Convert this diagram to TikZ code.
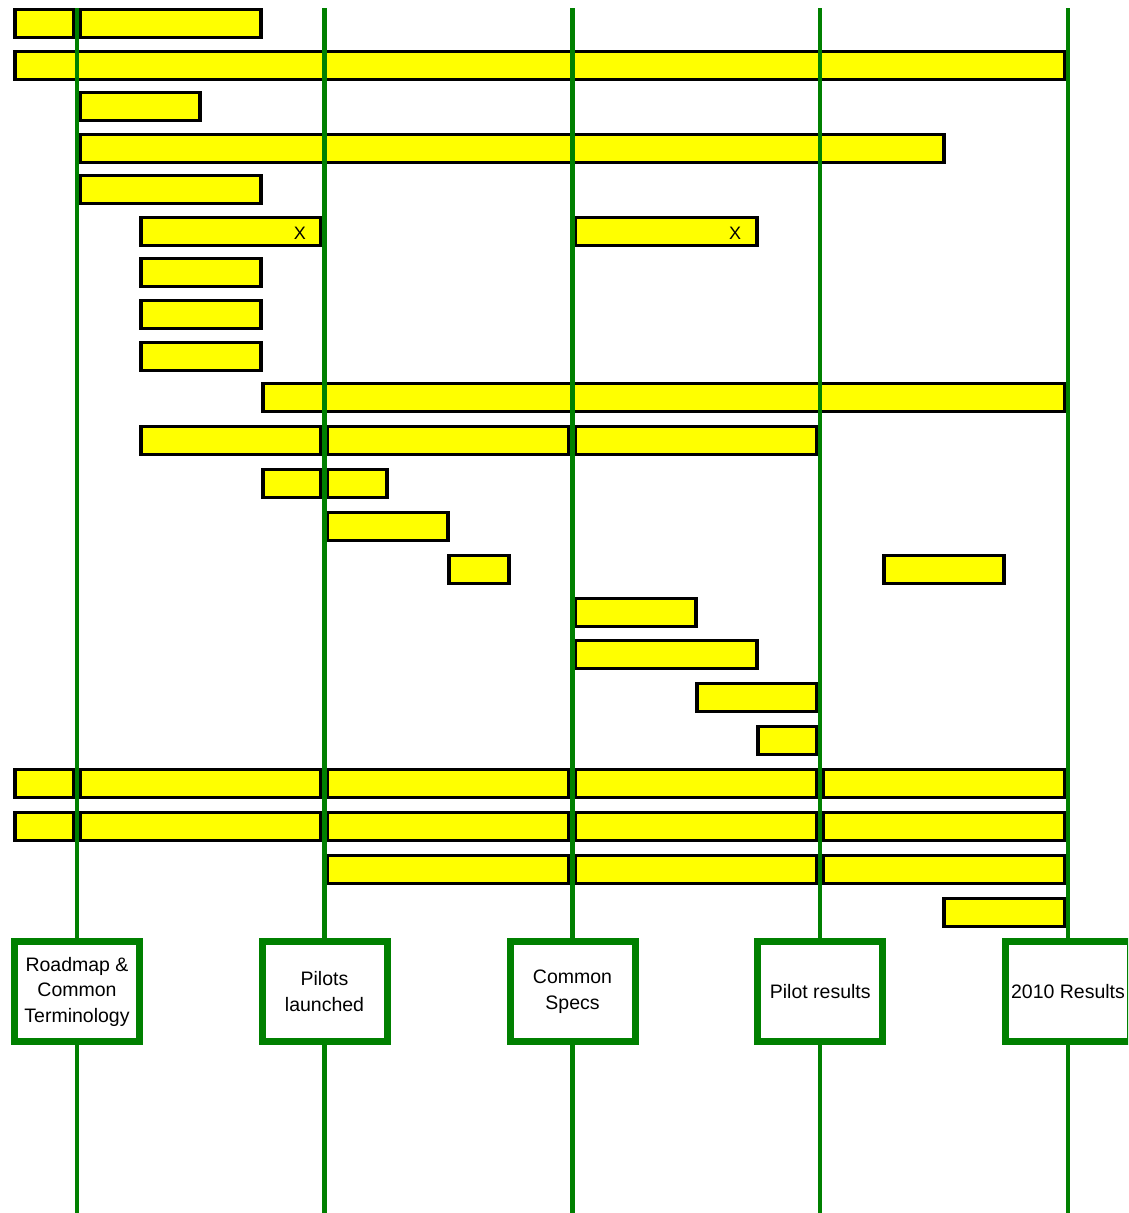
\documentclass[tikz,border=0pt]{standalone}
\usepackage{fontspec}
\setmainfont{Liberation Sans}
\definecolor{msgreen}{HTML}{008000}
\definecolor{baryellow}{HTML}{FFFF00}
\newcommand\gbar[3]{\draw[bar] (#2,#1+1.5) rectangle (#3,#1+29.5);}
\begin{document}
\begin{tikzpicture}[x=1pt,y=-1pt,
  bar/.style={draw=black,line width=3.2pt,fill=baryellow},
  vline/.style={draw=msgreen,line width=4.2pt},
  milestone/.style={draw=msgreen,line width=7pt,fill=white,minimum width=125pt,minimum height=100pt,inner sep=0pt,align=center,font=\fontsize{19.5}{25.5}\selectfont},
  xmark/.style={font=\fontsize{18}{20}\selectfont,inner sep=0pt}]
\useasboundingbox (0,0) rectangle (1128,1213);
\clip (0,0) rectangle (1128,1213);
% bars (first argument: top edge of the row)
\gbar{8}{15}{74}\gbar{8}{80}{261}
\gbar{50}{15}{1065}
\gbar{91}{80}{200}
\gbar{133}{80}{944}
\gbar{174}{80}{261}
\gbar{216}{141}{321}\gbar{216}{575}{757}
\gbar{257}{141}{261}
\gbar{299}{141}{261}
\gbar{341}{141}{261}
\gbar{382}{263}{1065}
\gbar{425}{141}{321}\gbar{425}{327}{569}\gbar{425}{575}{817}
\gbar{468}{263}{321}\gbar{468}{327}{387}
\gbar{511}{327}{448}
\gbar{554}{449}{509}\gbar{554}{884}{1004}
\gbar{597}{575}{696}
\gbar{639}{575}{757}
\gbar{682}{697}{817}
\gbar{725}{758}{817}
\gbar{768}{15}{74}\gbar{768}{80}{321}\gbar{768}{327}{569}\gbar{768}{575}{817}\gbar{768}{823}{1065}
\gbar{811}{15}{74}\gbar{811}{80}{321}\gbar{811}{327}{569}\gbar{811}{575}{817}\gbar{811}{823}{1065}
\gbar{854}{327}{569}\gbar{854}{575}{817}\gbar{854}{823}{1065}
\gbar{897}{944}{1065}
\node[xmark] (x1) at (300,233) {X};
\node[xmark] (x2) at (735,233) {X};
% milestone lines
\coordinate (t1) at (77,8);     \coordinate (b1) at (77,1213);
\coordinate (t2) at (324.5,8);  \coordinate (b2) at (324.5,1213);
\coordinate (t3) at (572.5,8);  \coordinate (b3) at (572.5,1213);
\coordinate (t4) at (820.25,8); \coordinate (b4) at (820.25,1213);
\coordinate (t5) at (1068,8);   \coordinate (b5) at (1068,1213);
\foreach \i in {1,...,5} {\draw[vline] (t\i) -- (b\i);}
% milestone boxes
\node[milestone] (m1) at (77,991.5) {Roadmap \&\\Common\\Terminology};
\node[milestone] (m2) at (324.5,991.5) {Pilots\\launched};
\node[milestone] (m3) at (572.5,991.5) {Common\\Specs};
\node[milestone] (m4) at (820.25,991.5) {Pilot results};
\node[milestone] (m5) at (1068,991.5) {2010 Results};
\end{tikzpicture}
\end{document}
